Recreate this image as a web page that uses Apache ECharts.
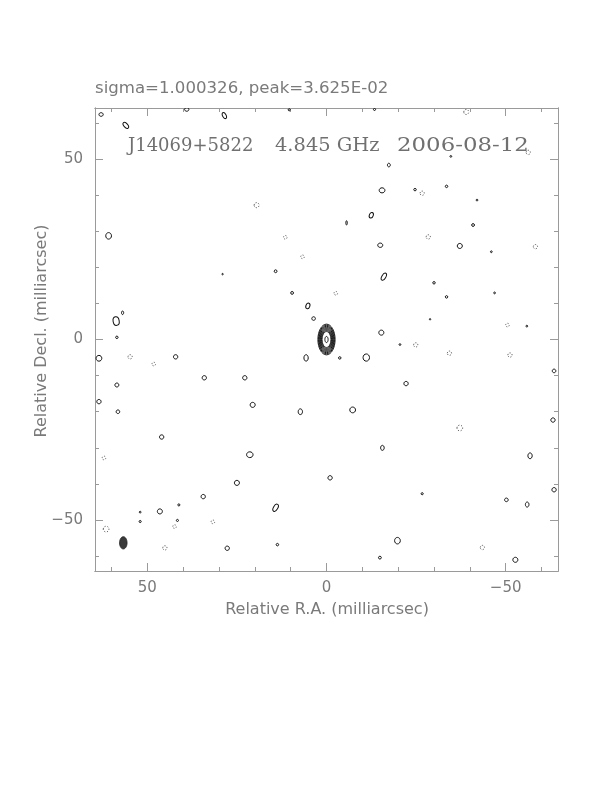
<!DOCTYPE html>
<html><head><meta charset="utf-8">
<script src="https://cdn.jsdelivr.net/npm/echarts@6/dist/echarts.min.js"></script>
<style>html,body{margin:0;padding:0;background:#fff}#c{width:612px;height:792px}</style>
</head><body><div id="c"></div><script>
// Axis ranges (milliarcsec)
const raMin = -64.6, raMax = 64.6;
const decMin = -64.1, decMax = 64.1;
const minorTicks = [-60, -50, -40, -30, -20, -10, 0, 10, 20, 30, 40, 50, 60];
const majorTicks = [-50, 0, 50];

// Core component contours (semi-axes, mas)
const coreRA = 0, coreDec = 0;
const coreRx = [2.4, 2.22, 2.05, 1.88, 1.72, 1.56, 1.4, 1.24, 0.45];
const coreRy = [4.25, 3.95, 3.65, 3.35, 3.05, 2.77, 2.49, 2.2, 0.85];

// Restoring beam
const beamRA = 56.7, beamDec = -56.3, beamRx = 1.05, beamRy = 1.7;

// Positive noise contours
const posRA  = [62.9, 56, 39, 28.5, 10.4, -13.4, -17.4, -15.5, -24.7, -33.5, -42, -12.5, -40.9, -15, -37.2, -46, -16, -30, -46.9, -33.5, -5.6, -28.9, -15.3, -55.9, -20.5, -11.1, -3.7, 60.8, 14.2, 29, 9.6, 5.2, 3.6, 58.7, 56.9, 58.5, 63.5, 58.5, 63.5, 52, 46.5, 52, 41.2, 41.6, 46, 34.1, 42.1, 58.2, 21.4, 25, 34.4, 14.2, 13.7, 27.7, 20.6, 22.8, 7.3, 5.7, -1, -7.3, -15.6, -19.8, -14.9, -26.7, -50.2, -56, -56.8, -63.2, -63.5, -63.5, -52.7, -22.2, -34.7];
const posDec = [62.3, 59.3, 63.7, 62, 63.6, 63.7, 48.3, 41.3, 41.5, 42.4, 38.6, 34.4, 31.7, 26.1, 25.9, 24.3, 17.4, 15.7, 12.9, 11.8, 32.3, 5.6, 1.9, 3.7, -1.4, -5, -5.1, 28.7, 18.9, 18.1, 12.9, 9.3, 5.8, 5.1, 7.4, 0.6, -5.2, -12.6, -17.2, -50.4, -47.6, -47.8, -45.8, -50.1, -27, -10.6, -4.8, -20, -31.9, -39.7, -43.5, -46.6, -56.8, -57.8, -18.1, -10.6, -20, -5.1, -38.3, -19.5, -30, -55.7, -60.4, -42.7, -44.4, -45.7, -32.2, -22.3, -8.7, -41.6, -61, -12.2, 50.7];
const posRx  = [0.6, 0.55, 0.6, 0.5, 0.3, 0.3, 0.4, 0.8, 0.35, 0.35, 0.25, 0.55, 0.4, 0.7, 0.7, 0.25, 0.55, 0.35, 0.25, 0.35, 0.2, 0.2, 0.7, 0.25, 0.25, 0.9, 0.35, 0.8, 0.4, 0.2, 0.4, 0.55, 0.5, 0.85, 0.3, 0.35, 0.8, 0.55, 0.6, 0.3, 0.7, 0.25, 0.3, 0.3, 0.6, 0.6, 0.6, 0.5, 0.9, 0.7, 0.6, 0.6, 0.35, 0.6, 0.7, 0.6, 0.6, 0.6, 0.6, 0.8, 0.5, 0.8, 0.4, 0.3, 0.5, 0.5, 0.6, 0.6, 0.5, 0.6, 0.7, 0.6, 0.25];
const posRy  = [0.5, 1.0, 0.5, 0.9, 0.3, 0.3, 0.5, 0.7, 0.35, 0.35, 0.25, 0.8, 0.4, 0.6, 0.7, 0.25, 1.1, 0.35, 0.25, 0.35, 0.6, 0.2, 0.7, 0.25, 0.25, 1.0, 0.35, 0.9, 0.4, 0.2, 0.4, 0.8, 0.5, 1.2, 0.5, 0.35, 0.8, 0.55, 0.6, 0.3, 0.7, 0.25, 0.3, 0.3, 0.6, 0.6, 0.6, 0.5, 0.8, 0.7, 0.6, 1.1, 0.35, 0.6, 0.7, 0.6, 0.8, 0.9, 0.6, 0.8, 0.7, 0.9, 0.4, 0.3, 0.5, 0.7, 0.8, 0.6, 0.5, 0.6, 0.7, 0.6, 0.25];
const posAng = [0, 40, 0, 30, 0, 0, 0, 0, 0, 0, 0, -20, 0, 0, 0, 0, -30, 0, 0, 0, 0, 0, 0, 0, 0, 0, 0, 0, 0, 0, 0, -20, 0, 10, 0, 0, 0, 0, 0, 0, 0, 0, 0, 0, 0, 0, 0, 0, 0, 0, 0, -30, 0, 0, 0, 0, 0, 0, 0, 0, 0, 0, 0, 0, 0, 0, 0, 0, 0, 0, 0, 0, 0];

// Negative (dotted) noise contours
const negRA  = [-39, -56.3, -26.7, -28.4, -58.3, -2.6, -50.5, -24.9, -34.3, -51.2, 19.5, 11.5, 6.7, 54.8, 62.1, 61.5, 45.1, 48.2, 31.7, -37.2, -43.5, 42.4];
const negDec = [63, 51.8, 40.5, 28.4, 25.7, 12.8, 4, -1.5, -3.8, -4.3, 37.2, 28.3, 22.9, -4.8, -32.8, -52.5, -57.7, -6.8, -50.5, -24.5, -57.6, -51.8];
const negR   = [0.7, 0.6, 0.6, 0.6, 0.6, 0.5, 0.5, 0.6, 0.6, 0.6, 0.7, 0.5, 0.5, 0.6, 0.5, 0.8, 0.6, 0.5, 0.5, 0.8, 0.6, 0.5];

const chart = echarts.init(document.getElementById('c'), null, {renderer: 'canvas'});

const axisColor = '#9a9a9a';
const textColor = '#7a7a7a';
const fontSans = 'DejaVu Sans';

function mkX(position, ticks, len, showLabel) {
  return {
    type: 'value', gridIndex: 0, position: position, min: raMin, max: raMax, inverse: true,
    axisLine: {show: true, onZero: false, lineStyle: {color: axisColor, width: 1}},
    axisTick: {show: true, inside: true, length: len, customValues: ticks, lineStyle: {color: axisColor, width: 1}},
    axisLabel: {show: showLabel, customValues: majorTicks, margin: 10, color: textColor, fontFamily: fontSans, fontSize: 15,
      formatter: v => (v < 0 ? '\u2212' + Math.abs(v) : String(v))},
    splitLine: {show: false}
  };
}
function mkY(position, ticks, len, showLabel) {
  return {
    type: 'value', gridIndex: 0, position: position, min: decMin, max: decMax,
    axisLine: {show: true, onZero: false, lineStyle: {color: axisColor, width: 1}},
    axisTick: {show: true, inside: true, length: len, customValues: ticks, lineStyle: {color: axisColor, width: 1}},
    axisLabel: {show: showLabel, customValues: majorTicks, margin: 12, color: textColor, fontFamily: fontSans, fontSize: 15,
      formatter: v => (v < 0 ? '\u2212' + Math.abs(v) : String(v))},
    splitLine: {show: false}
  };
}

function ellipseItem(style) {
  return function (params, api) {
    const c = api.coord([api.value(0), api.value(1)]);
    const s = api.size([api.value(2), api.value(3)]);
    return {
      type: 'ellipse', x: c[0], y: c[1], rotation: (api.value(4) || 0) * Math.PI / 180,
      shape: {cx: 0, cy: 0, rx: Math.abs(s[0]), ry: Math.abs(s[1])},
      style: style
    };
  };
}

const coreData = coreRx.map((rx, i) => [coreRA, coreDec, rx, coreRy[i], 0]);
const posData = posRA.map((r, i) => [r, posDec[i], posRx[i], posRy[i], posAng[i]]);
const negData = negRA.map((r, i) => [r, negDec[i], negR[i], negR[i], 0]);
const beamData = [[beamRA, beamDec, beamRx, beamRy, 0]];

const titleFont = '18px "DejaVu Serif"';
const titleColor = '#707070';

chart.setOption({
  animation: false,
  backgroundColor: '#ffffff',
  grid: {left: 95, top: 108, width: 463, height: 463, containLabel: false},
  xAxis: [
    mkX('bottom', minorTicks, 4, false),
    mkX('bottom', majorTicks, 8, true),
    mkX('top', minorTicks, 4, false),
    mkX('top', majorTicks, 8, false)
  ],
  yAxis: [
    mkY('left', minorTicks, 4, false),
    mkY('left', majorTicks, 8, true),
    mkY('right', minorTicks, 4, false),
    mkY('right', majorTicks, 8, false)
  ],
  graphic: [
    {type: 'text', x: 95, y: 89, style: {text: 'sigma=1.000326, peak=3.625E-02', fill: textColor, font: '16.6px "DejaVu Sans"', verticalAlign: 'middle', align: 'left'}},
    {type: 'text', x: 128, y: 146, style: {text: 'J14069+5822', fill: titleColor, font: titleFont, verticalAlign: 'middle', align: 'left'}},
    {type: 'text', x: 275, y: 146, scaleX: 1.08, style: {text: '4.845 GHz', fill: titleColor, font: titleFont, verticalAlign: 'middle', align: 'left'}},
    {type: 'text', x: 397, y: 146, scaleX: 1.27, style: {text: '2006-08-12', fill: titleColor, font: titleFont, verticalAlign: 'middle', align: 'left'}},
    {type: 'text', x: 327, y: 610, style: {text: 'Relative R.A. (milliarcsec)', fill: textColor, font: '16px "DejaVu Sans"', verticalAlign: 'middle', align: 'center'}},
    {type: 'text', x: 42, y: 331, rotation: Math.PI / 2, style: {text: 'Relative Decl. (milliarcsec)', fill: textColor, font: '16px "DejaVu Sans"', verticalAlign: 'middle', align: 'center'}}
  ],
  series: [
    {type: 'custom', name: 'core', xAxisIndex: 0, yAxisIndex: 0, clip: true, data: coreData,
      renderItem: ellipseItem({fill: 'none', stroke: '#1a1a1a', lineWidth: 1})},
    {type: 'custom', name: 'positive', xAxisIndex: 0, yAxisIndex: 0, clip: true, data: posData,
      renderItem: ellipseItem({fill: 'none', stroke: '#111', lineWidth: 1})},
    {type: 'custom', name: 'negative', xAxisIndex: 0, yAxisIndex: 0, clip: true, data: negData,
      renderItem: ellipseItem({fill: 'none', stroke: '#555', lineWidth: 0.9, lineDash: [1.2, 1.6]})},
    {type: 'custom', name: 'beam', xAxisIndex: 0, yAxisIndex: 0, clip: true, data: beamData,
      renderItem: ellipseItem({fill: '#3a3a3a', stroke: '#222', lineWidth: 0.8})}
  ]
});
</script></body></html>
